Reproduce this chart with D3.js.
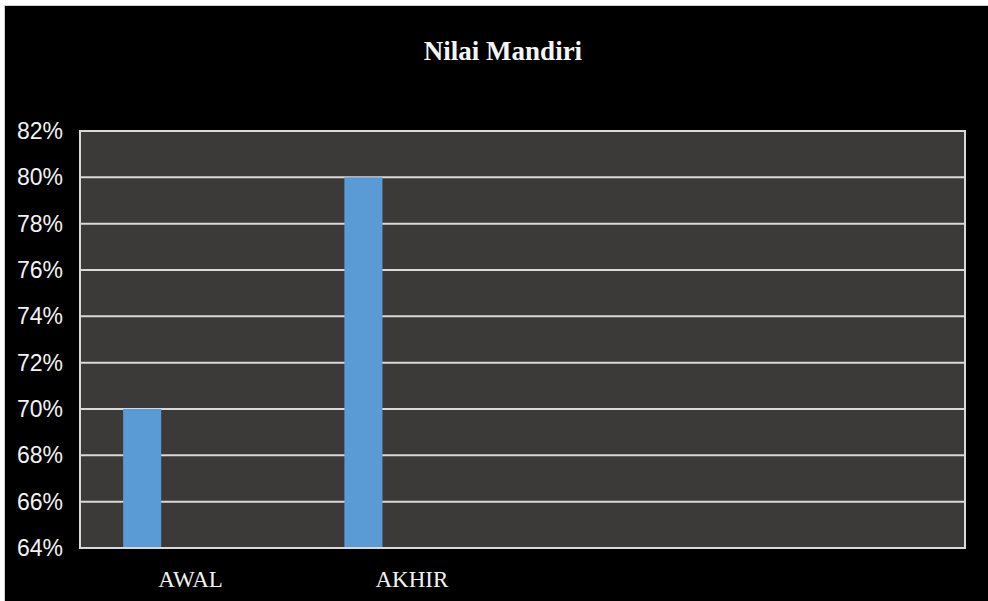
<!DOCTYPE html>
<html>
<head>
<meta charset="utf-8">
<script src="https://cdn.jsdelivr.net/npm/d3@7"></script>
<style>
  html, body { margin: 0; padding: 0; background: #ffffff; }
  svg { display: block; }
</style>
</head>
<body>
<svg id="chart" width="988" height="601"></svg>
<script>
// ---- data ----
const title = "Nilai Mandiri";
const categories = ["AWAL", "AKHIR", "", ""];
const values = [0.70, 0.80, null, null];
const yTicks = [0.64, 0.66, 0.68, 0.70, 0.72, 0.74, 0.76, 0.78, 0.80, 0.82];
const yDomain = [0.64, 0.82];

// ---- layout ----
const W = 988, H = 601;
const plot = { left: 80, right: 965, top: 131, bottom: 548 };

const svg = d3.select("#chart");

// outer frame
svg.append("rect").attr("x", 0).attr("y", 0).attr("width", W).attr("height", H).attr("fill", "#ffffff");
svg.append("rect").attr("x", 4.5).attr("y", 5.5).attr("width", W).attr("height", H)
  .attr("fill", "#000000").attr("stroke", "#d0d0d0").attr("stroke-width", 1);

const x = d3.scaleBand().domain(d3.range(categories.length)).range([plot.left, plot.right]).padding(0);
const y = d3.scaleLinear().domain(yDomain).range([plot.bottom, plot.top]);

// plot background
svg.append("rect").attr("x", plot.left).attr("y", plot.top)
  .attr("width", plot.right - plot.left).attr("height", plot.bottom - plot.top)
  .attr("fill", "#3b3a39");

// gridlines
svg.append("g").selectAll("line").data(yTicks).join("line")
  .attr("x1", plot.left).attr("x2", plot.right)
  .attr("y1", d => y(d)).attr("y2", d => y(d))
  .attr("stroke", "#d9d9d9").attr("stroke-width", 2);

// bars
const bw = x.bandwidth();
svg.append("g").selectAll("rect")
  .data(values.map((v, i) => ({ v, i })).filter(d => d.v != null))
  .join("rect")
  .attr("x", d => x(d.i) + bw * 0.195)
  .attr("width", bw * 0.172)
  .attr("y", d => y(d.v))
  .attr("height", d => y(yDomain[0]) - y(d.v))
  .attr("fill", "#5b9bd5");

// plot border
svg.append("rect").attr("x", plot.left).attr("y", plot.top)
  .attr("width", plot.right - plot.left).attr("height", plot.bottom - plot.top)
  .attr("fill", "none").attr("stroke", "#d9d9d9").attr("stroke-width", 2);

// y axis labels
const yAxis = d3.axisLeft(y).tickValues(yTicks).tickFormat(d3.format(".0%")).tickSize(0).tickPadding(17);
const gy = svg.append("g").attr("transform", `translate(${plot.left},0)`).call(yAxis);
gy.select(".domain").remove();
gy.selectAll("text").attr("fill", "#f2f2f2")
  .style("font-family", "'Liberation Sans', Arial, sans-serif").style("font-size", "23px");

// x axis labels
const xAxis = d3.axisBottom(x).tickFormat(i => categories[i]).tickSize(0).tickPadding(23);
const gx = svg.append("g").attr("transform", `translate(0,${plot.bottom})`).call(xAxis);
gx.select(".domain").remove();
gx.selectAll("text").attr("fill", "#f2f2f2")
  .style("font-family", "'Liberation Serif', 'Times New Roman', serif").style("font-size", "23px");

// title
svg.append("text").attr("x", 503).attr("y", 60).attr("text-anchor", "middle")
  .attr("fill", "#f5f5f5")
  .style("font-family", "'Liberation Serif', 'Times New Roman', serif")
  .style("font-weight", "bold").style("font-size", "27px")
  .text(title);
</script>
</body>
</html>
